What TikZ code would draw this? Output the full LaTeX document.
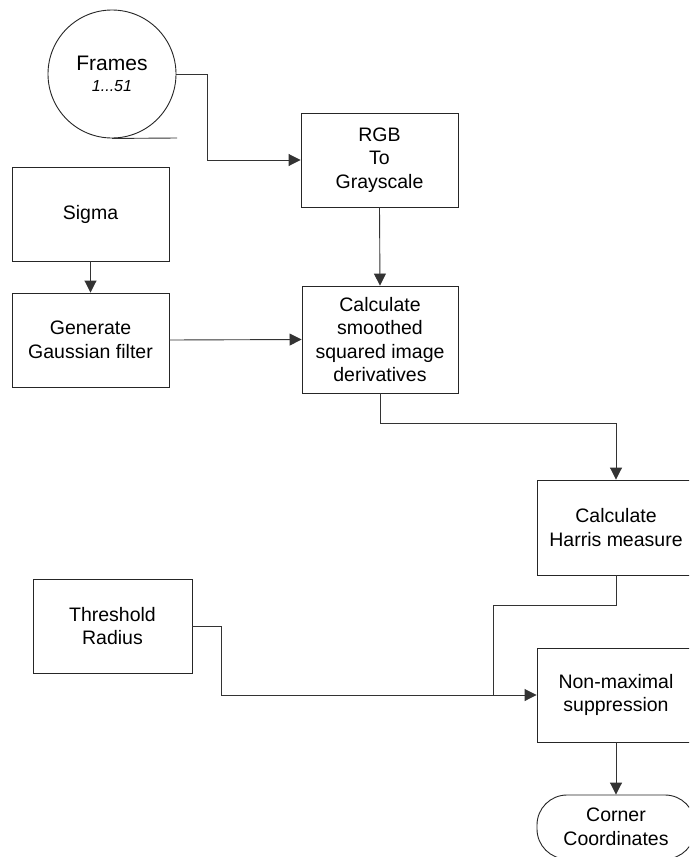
\documentclass[tikz,border=0pt]{standalone}
\usepackage{fontspec}
\setmainfont{Liberation Sans}
\usetikzlibrary{arrows.meta}
\begin{document}
\begin{tikzpicture}[x=1pt,y=-1pt,
  every node/.style={font=\fontsize{19.5}{23.5}\selectfont, align=center, inner sep=0pt},
  boxn/.style={draw=black!85, line width=0.9pt, minimum width=157pt, minimum height=94pt},
  termn/.style={draw=black!85, line width=0.9pt, minimum width=158pt, minimum height=64pt, rounded corners=30pt},
  store/.style={draw=black!85, line width=0.9pt, circle, minimum size=128pt},
  conn/.style={draw=black!80, line width=0.9pt},
  arr/.style={conn, -{Triangle[length=12pt,width=12pt]}}]
\useasboundingbox (0,0) rectangle (689,857);
\clip (0,0) rectangle (689,857);
\fill[white] (0,0) rectangle (689,857);
% nodes
\node[store] (frames) at (112,74) {{\fontsize{21}{23}\selectfont Frames}\\[-2pt]{\fontsize{16}{19}\selectfont\itshape 1...51}};
\node[boxn] (rgb) at (379.5,160) {RGB\\To\\Grayscale};
\node[boxn] (sigma) at (90.5,214) {Sigma};
\node[boxn] (gauss) at (90.5,340) {Generate\\Gaussian filter};
\node[boxn, minimum width=156pt, minimum height=107pt] (calc) at (380,339.5) {Calculate\\smoothed\\squared image\\derivatives};
\node[boxn, minimum width=158pt, minimum height=95pt] (harris) at (616,527.5) {Calculate\\Harris measure};
\node[boxn, minimum width=159pt] (thresh) at (112.5,626) {Threshold\\Radius};
\node[boxn, minimum width=158pt] (nonmax) at (616,695) {Non-maximal\\suppression};
\node[termn] (corner) at (616,827) {Corner\\Coordinates};
% coordinates
\coordinate (tailend) at (177,138);
\coordinate (j1) at (207,74);
\coordinate (j2) at (493,695);
% connectors
\draw[conn] (frames.south) -- (tailend);
\draw[arr] (frames.east) -- (j1) |- (rgb.west);
\draw[arr] (rgb.south) -- (calc.north);
\draw[arr] (sigma.south) -- (gauss.north);
\draw[arr] (gauss.east) -- (calc.west);
\draw[arr] (calc.south) -- ++(0,30) -| (harris.north);
\draw[conn] (harris.south) -- ++(0,30) -| (j2);
\draw[arr] (thresh.east) -- ++(29,0) |- (nonmax.west);
\draw[arr] (nonmax.south) -- (corner.north);
\end{tikzpicture}
\end{document}
